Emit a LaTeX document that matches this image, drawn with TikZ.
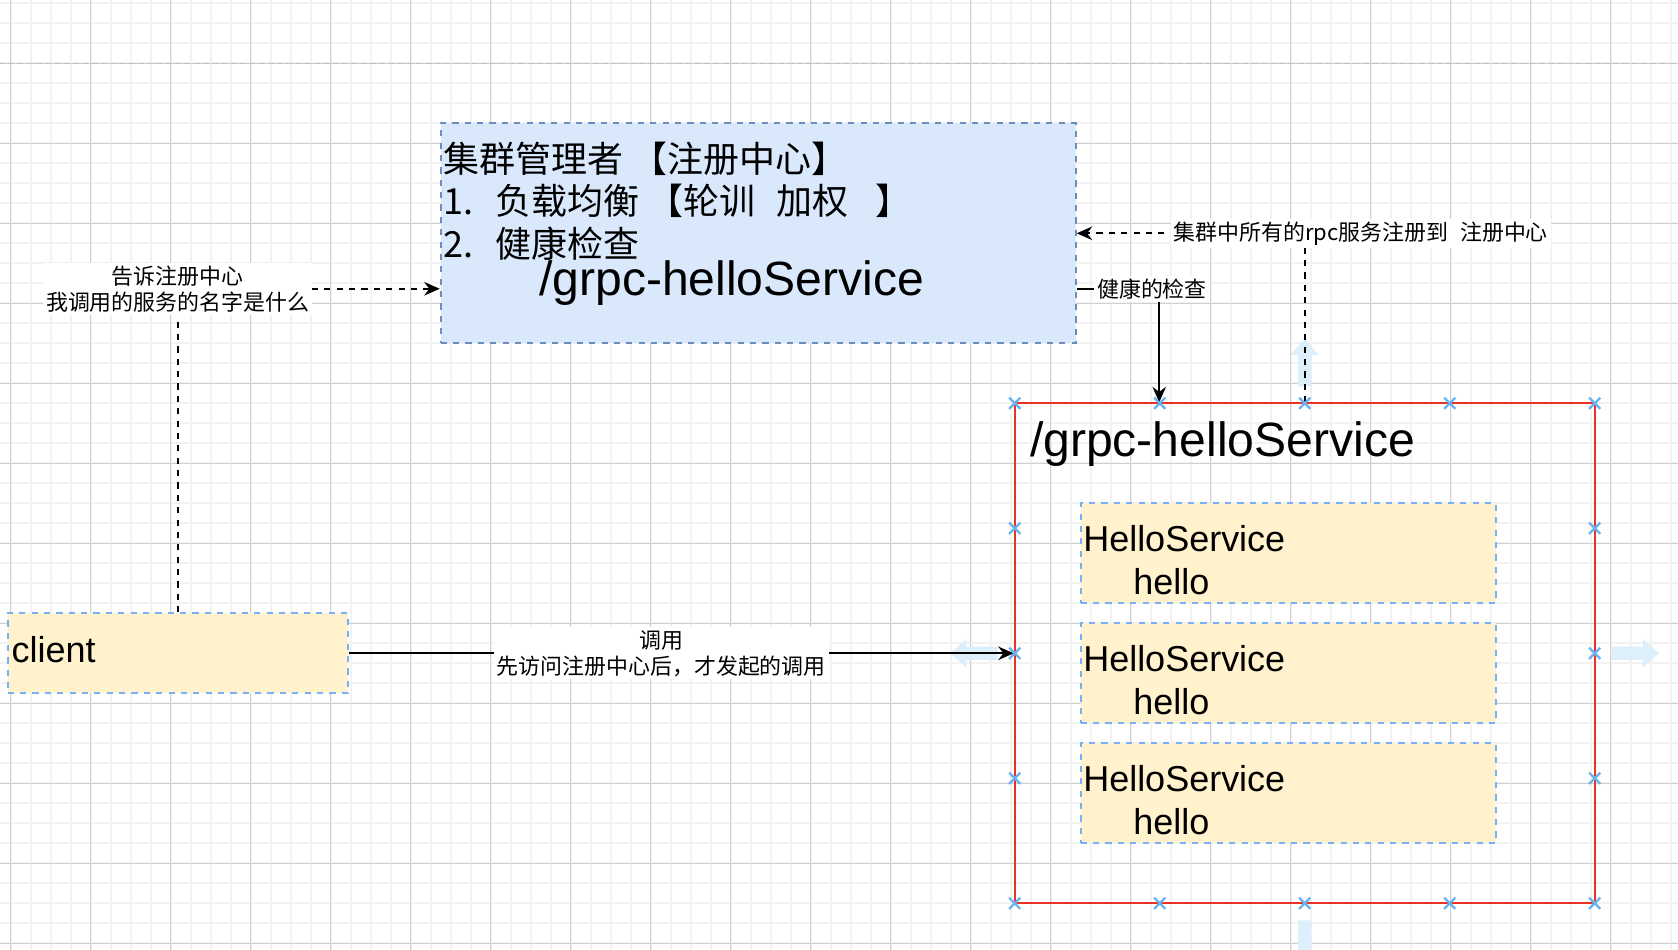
\documentclass[tikz,border=0pt]{standalone}
\usepackage{fontspec}
\setmainfont{Liberation Sans}
\newfontfamily\cjk{Noto Sans CJK SC}
\usetikzlibrary{arrows.meta, calc}

\definecolor{regfill}{HTML}{DAE8FC}
\definecolor{regline}{HTML}{6C8EBF}
\definecolor{svcfill}{HTML}{FFF2CC}
\definecolor{svcline}{RGB}{120,175,245}
\definecolor{groupred}{RGB}{232,50,38}
\definecolor{handleblue}{RGB}{105,178,240}
\definecolor{hoverblue}{RGB}{222,239,252}
\definecolor{gridmajor}{RGB}{208,208,208}
\definecolor{gridminor}{RGB}{242,242,242}

\newcommand{\bodyfont}{\fontsize{12.8pt}{15.4pt}\selectfont}
\newcommand{\pathfont}{\fontsize{17.1pt}{20.5pt}\selectfont}
\newcommand{\notefont}{\cjk\fontsize{7.8pt}{9.3pt}\selectfont}

\begin{document}
\begin{tikzpicture}[
  x = 0.25cm, y = -0.25cm,
  regbox/.style={draw=regline, fill=regfill, line width=0.7pt, dash pattern=on 2.2pt off 2.2pt, inner sep=0pt},
  svcbox/.style={draw=svcline, fill=svcfill, line width=0.7pt, dash pattern=on 2.2pt off 2.2pt, inner sep=0pt},
  groupbox/.style={draw=groupred, line width=0.7pt, inner sep=0pt},
  txt/.style={anchor=west, inner sep=0pt},
  note/.style={fill=white, inner sep=1pt, align=center, font=\notefont},
  link/.style={black, line width=0.7pt, -{Stealth[length=5.5pt, width=4.8pt, inset=1.8pt]}},
  weak/.style={link, dash pattern=on 2.2pt off 2.2pt},
  handle/.style={handleblue, line width=0.8pt},
  hover/.style={fill=hoverblue},
  gridthin/.style={gridminor, line width=0.7pt},
  gridthick/.style={gridmajor, line width=0.4pt},
  pagebreak/.style={black!25, line width=0.5pt, dash pattern=on 2.2pt off 1.1pt}
]
%general params
\def\u{0.25cm} %grid unit
\useasboundingbox (-0.535,-3.165) rectangle (83.365,44.335);
\clip (-0.535,-3.165) rectangle (83.365,44.335);

%background grid
\fill[white] (-0.535,-3.165) rectangle (83.365,44.335);
\foreach \gx in {0,...,83} \draw[gridthin] (\gx,-3.2) -- (\gx,44.4);
\foreach \gy in {-3,...,44} \draw[gridthin] (-0.6,\gy) -- (83.4,\gy);
\foreach \gx in {0,4,...,80} \draw[gridthick] (\gx,-3.2) -- (\gx,44.4);
\foreach \gy in {0,4,...,44} \draw[gridthick] (-0.6,\gy) -- (83.4,\gy);
\draw[pagebreak] (-0.6,0) -- (83.4,0);

%registry
\node[regbox, minimum width=31.75*\u, minimum height=11*\u] (reg) at (37.375,8.5) {};
\node[txt, font=\cjk\bodyfont] (regtitle) at (21.62,4.76) {集群管理者 【注册中心】};
\node[txt, font=\cjk\bodyfont] (regload) at (21.62,6.9) {1.\hspace{0.6em}负载均衡 【轮训\hspace{0.6em}加权\hspace{0.75em}】};
\node[txt, font=\cjk\bodyfont] (reghealth) at (21.62,9.03) {2.\hspace{0.6em}健康检查};
\node[txt, font=\pathfont] (regpath) at (26.4,11.0) {/grpc-helloService};

%client
\node[svcbox, minimum width=17*\u, minimum height=4*\u] (client) at (8.35,29.5) {};
\node[txt, font=\bodyfont] (clienttxt) at (0.02,29.3) {client};

%service group
\node[groupbox, minimum width=29*\u, minimum height=25*\u] (svc) at (64.7,29.5) {};
\node[txt, font=\pathfont] (svcpath) at (50.94,19.04) {/grpc-helloService};
\foreach \i/\y in {1/22,2/28,3/34} {
  \node[svcbox, minimum width=20.75*\u, minimum height=5*\u] (hs\i) at (63.875,\y+2.5) {};
  \node[txt, font=\bodyfont] (hsname\i) at (53.6,\y+1.75) {HelloService};
  \node[txt, font=\bodyfont] (hsmethod\i) at (56.1,\y+3.9) {hello};
}

%hover arrows
\foreach \anc/\ang in {north/90, east/0, south/-90, west/180}
  \fill[hover, shift={(svc.\anc)}, rotate=\ang] (0.8,-0.33) -- (2.37,-0.33) -- (2.37,-0.7) -- (3.17,0) -- (2.37,0.7) -- (2.37,0.33) -- (0.8,0.33) -- cycle;

%connectors
\coordinate (regin) at ($(reg.south west)!0.25!(reg.north west)$);
\coordinate (regout) at ($(reg.south east)!0.25!(reg.north east)$);
\coordinate (svcin) at ($(svc.north west)!0.25!(svc.north east)$);

\draw[weak] (client.north) |- node[note] (tellnote) {告诉注册中心\\我调用的服务的名字是什么} (regin);
\draw[weak] (svc.north) |- node[note, xshift=0.7cm] (joinnote) {集群中所有的rpc服务注册到\hspace{0.55em}注册中心} (reg.east);
\draw[link] (regout) -| node[note, xshift=-0.09cm] (checknote) {健康的检查} (svcin);
\draw[link] (client.east) -- node[note, pos=0.47] (callnote) {调用\\先访问注册中心后，才发起的调用} (svc.west);

%selection handles
\foreach \hx in {50.2,57.45,64.7,71.95,79.2}
  \foreach \hy in {17,42}
    \draw[handle] (\hx-0.28,\hy-0.28) -- (\hx+0.28,\hy+0.28) (\hx-0.28,\hy+0.28) -- (\hx+0.28,\hy-0.28);
\foreach \hx in {50.2,79.2}
  \foreach \hy in {23.25,29.5,35.75}
    \draw[handle] (\hx-0.28,\hy-0.28) -- (\hx+0.28,\hy+0.28) (\hx-0.28,\hy+0.28) -- (\hx+0.28,\hy-0.28);

\end{tikzpicture}
\end{document}
